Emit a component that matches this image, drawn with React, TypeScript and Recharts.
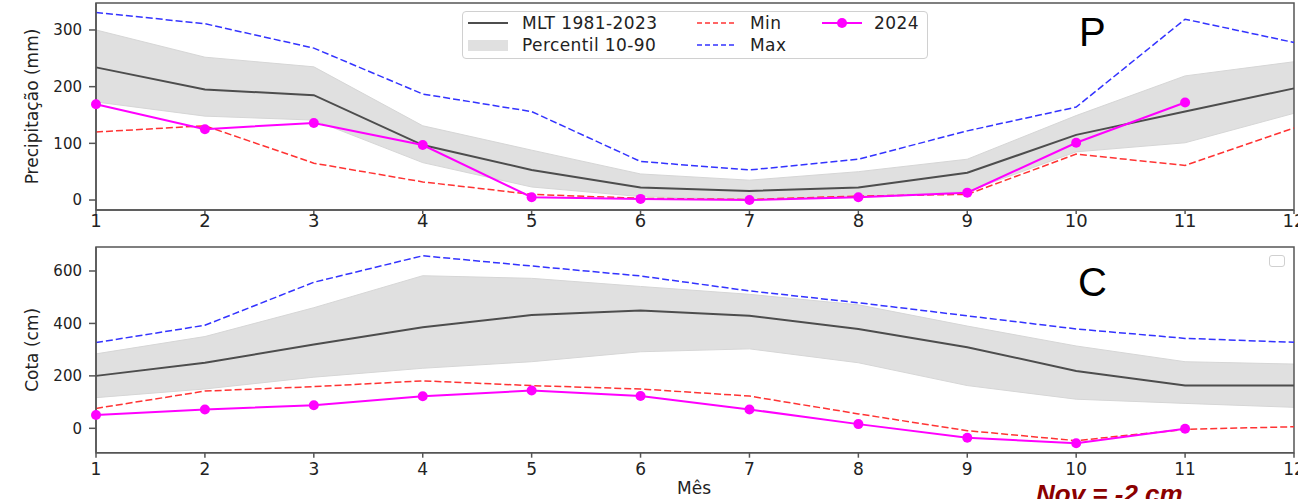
import React from "react";
import {
	Area,
	ComposedChart,
	Line,
	ReferenceArea,
	XAxis,
	YAxis,
} from "recharts";

const months = [1, 2, 3, 4, 5, 6, 7, 8, 9, 10, 11, 12];

// P - precipitação (mm)
const precipMlt = [234, 195, 185, 97, 53, 22, 16, 22, 48, 115, 156, 197];
const precipP10 = [173, 148, 141, 66, 23, 6, 1, 6, 15, 85, 101, 153];
const precipP90 = [300, 252, 235, 131, 88, 46, 35, 50, 72, 149, 219, 244];
const precipMin = [120, 131, 65, 32, 10, 3, 1, 7, 10, 81, 61, 127];
const precipMax = [331, 311, 268, 187, 156, 68, 53, 72, 122, 164, 319, 278];
const precip2024 = [169, 125, 136, 97, 5, 2, 0, 5, 13, 101, 172, null];

// C - cota (cm)
const cotaMlt = [200, 250, 320, 385, 432, 449, 429, 379, 309, 219, 163, 163];
const cotaP10 = [117, 150, 195, 229, 254, 292, 303, 250, 163, 111, 95, 80];
const cotaP90 = [284, 350, 460, 582, 572, 541, 511, 471, 390, 314, 254, 245];
const cotaMin = [76, 142, 159, 181, 163, 150, 123, 55, -9, -47, -4, 6];
const cotaMax = [327, 393, 557, 658, 619, 581, 524, 479, 429, 379, 343, 328];
const cota2024 = [51, 72, 88, 122, 144, 123, 72, 16, -36, -57, -2, null];

const precipTicks = [0, 100, 200, 300];
const cotaTicks = [0, 200, 400, 600];

const legendLabels = ["MLT 1981-2023", "Percentil 10-90", "Min", "Max", "2024"];

const FONT = "DejaVu Sans, sans-serif";
const MLT_COLOR = "#4d4d4d";
const BAND_COLOR = "#e0e0e0";
const MIN_COLOR = "#ff3333";
const MAX_COLOR = "#3333ff";
const Y2024_COLOR = "#ff00ff";
const SPINE = "#555555";

function buildRows(
	mlt: number[],
	p10: number[],
	p90: number[],
	min: number[],
	max: number[],
	y2024: (number | null)[],
) {
	return months.map((m, i) => ({
		month: m,
		mlt: mlt[i],
		band: [p10[i], p90[i]],
		min: min[i],
		max: max[i],
		y2024: y2024[i],
	}));
}

const precipData = buildRows(precipMlt, precipP10, precipP90, precipMin, precipMax, precip2024);
const cotaData = buildRows(cotaMlt, cotaP10, cotaP90, cotaMin, cotaMax, cota2024);

function Panel({
	data,
	height,
	marginTop,
	xAxisHeight,
	xTickSize,
	xTickMargin,
	xFont,
	domain,
	ticks,
	yTickMargin,
	label,
}: any) {
	return (
		<ComposedChart
			width={1298}
			height={height}
			data={data}
			margin={{ top: marginTop, right: 4, left: 0, bottom: 0 }}
			accessibilityLayer={false}
		>
			<XAxis
				dataKey="month"
				type="number"
				domain={[1, 12]}
				ticks={months}
				height={xAxisHeight}
				stroke={SPINE}
				strokeWidth={1.5}
				tickSize={xTickSize}
				tickMargin={xTickMargin}
				tick={{ fill: "#222", fontSize: xFont, fontFamily: FONT }}
				interval={0}
			/>
			<YAxis
				domain={domain}
				ticks={ticks}
				allowDataOverflow
				width={96}
				stroke={SPINE}
				strokeWidth={1.5}
				tickSize={7}
				tickMargin={yTickMargin}
				tick={{ fill: "#222", fontSize: 15, fontFamily: FONT }}
				label={{
					value: label,
					angle: -90,
					position: "insideLeft",
					offset: 32,
					style: { textAnchor: "middle", fill: "#222", fontSize: 17, fontFamily: FONT },
				}}
			/>
			<Area
				dataKey="band"
				fill={BAND_COLOR}
				fillOpacity={1}
				stroke="#d6d6d6"
				strokeWidth={1}
				type="linear"
				isAnimationActive={false}
			/>
			<Line
				dataKey="mlt"
				stroke={MLT_COLOR}
				strokeWidth={2}
				dot={false}
				type="linear"
				isAnimationActive={false}
			/>
			<Line
				dataKey="min"
				stroke={MIN_COLOR}
				strokeWidth={1.5}
				strokeDasharray="7 3"
				dot={false}
				type="linear"
				isAnimationActive={false}
			/>
			<Line
				dataKey="max"
				stroke={MAX_COLOR}
				strokeWidth={1.5}
				strokeDasharray="7 3"
				dot={false}
				type="linear"
				isAnimationActive={false}
			/>
			<Line
				dataKey="y2024"
				stroke={Y2024_COLOR}
				strokeWidth={2}
				dot={{ r: 5, fill: Y2024_COLOR, stroke: Y2024_COLOR, strokeWidth: 0 }}
				type="linear"
				isAnimationActive={false}
			/>
			<ReferenceArea
				x1={1}
				x2={12}
				y1={domain[0]}
				y2={domain[1]}
				fill="none"
				stroke={SPINE}
				strokeWidth={1.5}
			/>
		</ComposedChart>
	);
}

function LegendBox() {
	const text = {
		position: "absolute" as const,
		fontSize: 17,
		letterSpacing: 0.4,
		fontFamily: FONT,
		color: "#222",
		lineHeight: "18px",
		whiteSpace: "nowrap" as const,
	};
	const dash = (color: string, dashed: boolean, marker: boolean) => (
		<svg width={40} height={12} style={{ display: "block" }}>
			<line x1={0} x2={40} y1={6} y2={6} stroke={color} strokeWidth={dashed ? 1.5 : 2} strokeDasharray={dashed ? "5 3" : undefined} />
			{marker ? <circle cx={20} cy={6} r={5} fill={color} /> : null}
		</svg>
	);
	return (
		<div
			style={{
				position: "absolute",
				left: 462,
				top: 11,
				width: 466,
				height: 48,
				border: "1px solid #d0d0d0",
				borderRadius: 4,
				background: "rgba(255,255,255,0.85)",
				boxSizing: "border-box",
			}}
		>
			<div style={{ position: "absolute", left: 5, top: 5 }}>{dash(MLT_COLOR, false, false)}</div>
			<div style={{ ...text, left: 59, top: 2 }}>{legendLabels[0]}</div>
			<div style={{ position: "absolute", left: 5, top: 28, width: 40, height: 11, background: BAND_COLOR }} />
			<div style={{ ...text, left: 59, top: 24 }}>{legendLabels[1]}</div>
			<div style={{ position: "absolute", left: 234, top: 5 }}>{dash(MIN_COLOR, true, false)}</div>
			<div style={{ ...text, left: 287, top: 2 }}>{legendLabels[2]}</div>
			<div style={{ position: "absolute", left: 234, top: 27 }}>{dash(MAX_COLOR, true, false)}</div>
			<div style={{ ...text, left: 287, top: 24 }}>{legendLabels[3]}</div>
			<div style={{ position: "absolute", left: 359, top: 5 }}>{dash(Y2024_COLOR, false, true)}</div>
			<div style={{ ...text, left: 411, top: 2 }}>{legendLabels[4]}</div>
		</div>
	);
}

export default function App() {
	return (
		<div
			style={{
				position: "absolute",
				left: 0,
				top: 0,
				width: 1298,
				height: 499,
				overflow: "hidden",
				background: "#ffffff",
				fontFamily: FONT,
			}}
		>
			<div style={{ position: "absolute", left: 0, top: 0 }}>
				<Panel
					data={precipData}
					height={240}
					marginTop={3}
					xAxisHeight={30}
					xTickSize={4}
					xTickMargin={0}
					xFont={18}
					domain={[-17.6, 347.6]}
					ticks={precipTicks}
					yTickMargin={7}
					label="Precipitação (mm)"
				/>
			</div>
			<div style={{ position: "absolute", left: 0, top: 240 }}>
				<Panel
					data={cotaData}
					height={259}
					marginTop={7}
					xAxisHeight={46.3}
					xTickSize={5}
					xTickMargin={5}
					xFont={17}
					domain={[-93, 691.5]}
					ticks={cotaTicks}
					yTickMargin={7}
					label="Cota (cm)"
				/>
			</div>
			<LegendBox />
			<div
				style={{
					position: "absolute",
					left: 1269,
					top: 255,
					width: 16,
					height: 12,
					border: "1px solid #d0d0d0",
					borderRadius: 3,
					boxSizing: "border-box",
				}}
			/>
			<div style={{ position: "absolute", left: 1079, top: 8, fontSize: 40, lineHeight: "48px", fontFamily: "Liberation Sans, sans-serif", color: "#000" }}>P</div>
			<div style={{ position: "absolute", left: 1078, top: 258, fontSize: 40, lineHeight: "48px", fontFamily: "Liberation Sans, sans-serif", color: "#000" }}>C</div>
			<div style={{ position: "absolute", left: 677, top: 478, fontSize: 17, lineHeight: "20px", fontFamily: FONT, color: "#222" }}>Mês</div>
			<div
				style={{
					position: "absolute",
					left: 1036,
					top: 481,
					fontSize: 26,
					lineHeight: "26px",
					fontWeight: "bold",
					fontStyle: "italic",
					fontFamily: "Liberation Sans, sans-serif",
					color: "#8b0000",
					whiteSpace: "nowrap",
				}}
			>
				Nov = -2 cm
			</div>
		</div>
	);
}
